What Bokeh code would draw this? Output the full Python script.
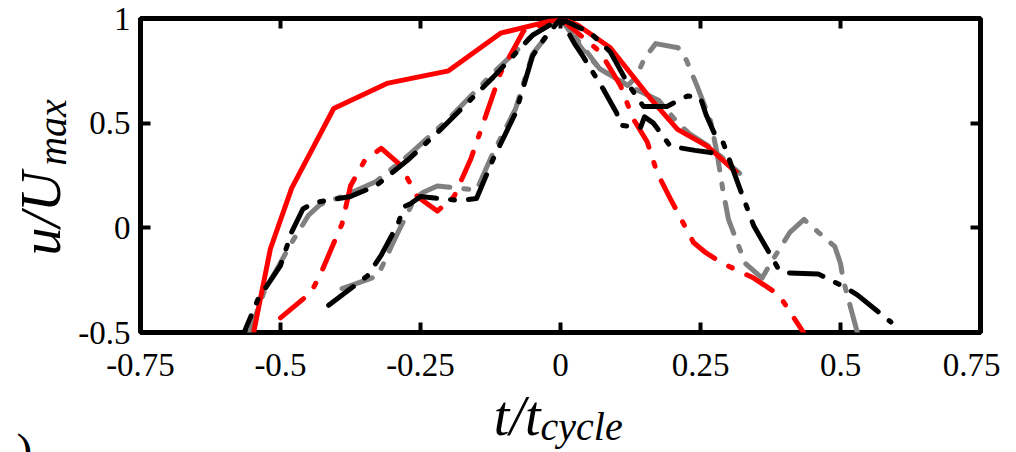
import math
from bokeh.plotting import figure
from bokeh.models import Range1d, LinearAxis, FixedTicker, Label
from bokeh.layouts import row, column
from bokeh.embed import file_html
from bokeh.resources import INLINE

# ---------------- data ----------------
x_ticks = [-0.75, -0.5, -0.25, 0, 0.25, 0.5, 0.75]
x_tick_labels = ["-0.75", "-0.5", "-0.25", "0", "0.25", "0.5", "0.75"]
y_ticks = [-0.5, 0, 0.5, 1]
y_tick_labels = ["-0.5", "0", "0.5", "1"]

red_solid_t = [-0.548, -0.518, -0.48, -0.405, -0.31, -0.2, -0.107, -0.03, 0.0, 0.03, 0.089, 0.16, 0.209, 0.262, 0.316]
red_solid_u = [-0.5, -0.1, 0.19, 0.57, 0.69, 0.75, 0.93, 0.98, 1.0, 0.97, 0.86, 0.62, 0.47, 0.39, 0.26]

red_dd_t = [-0.5, -0.446, -0.43, -0.39, -0.375, -0.35, -0.32, -0.286, -0.256, -0.22, -0.19, -0.16, -0.107, -0.066, 0.0,
            0.071, 0.107, 0.13, 0.155, 0.173, 0.196, 0.2375, 0.26, 0.29, 0.345, 0.39, 0.434]
red_dd_u = [-0.43, -0.31, -0.23, 0.02, 0.2, 0.32, 0.38, 0.30, 0.15, 0.08, 0.15, 0.33, 0.74, 0.94, 1.0,
            0.84, 0.68, 0.52, 0.41, 0.26, 0.14, -0.07, -0.12, -0.17, -0.24, -0.32, -0.5]

black_a_t = [-0.565, -0.54, -0.5, -0.48, -0.46, -0.44, -0.375, -0.33, -0.27, -0.214, -0.12, -0.05, 0.0,
             0.025, 0.04, 0.077, 0.1, 0.107, 0.143, 0.15, 0.166, 0.196, 0.24, 0.268, 0.29]
black_a_u = [-0.5, -0.34, -0.18, -0.02, 0.09, 0.12, 0.15, 0.2, 0.33, 0.47, 0.72, 0.92, 1.0,
             0.88, 0.82, 0.66, 0.55, 0.49, 0.48, 0.53, 0.5, 0.39, 0.37, 0.36, 0.34]

black_b_t = [-0.414, -0.345, -0.32, -0.29, -0.28, -0.268, -0.25, -0.18, -0.15, -0.12, -0.08, -0.05, -0.03, 0.0,
             0.054, 0.089, 0.12, 0.148, 0.19, 0.227, 0.25, 0.26, 0.275, 0.29, 0.32, 0.345, 0.375, 0.39, 0.405,
             0.46, 0.505, 0.53, 0.59]
black_b_u = [-0.37, -0.23, -0.13, 0.02, 0.1, 0.115, 0.15, 0.13, 0.14, 0.33, 0.55, 0.82, 0.9, 1.0,
             0.93, 0.84, 0.69, 0.58, 0.58, 0.63, 0.62, 0.54, 0.45, 0.41, 0.19, 0.01, -0.13, -0.2, -0.215,
             -0.22, -0.28, -0.32, -0.45]

gray_a_t = [-0.555, -0.53, -0.505, -0.48, -0.45, -0.43, -0.38, -0.33, -0.27, -0.2, -0.12, -0.05, 0.0,
            0.03, 0.07, 0.12, 0.175, 0.21, 0.23, 0.27, 0.32]
gray_a_u = [-0.5, -0.31, -0.19, -0.07, 0.06, 0.11, 0.16, 0.22, 0.35, 0.52, 0.74, 0.92, 1.0,
            0.9, 0.76, 0.68, 0.61, 0.5, 0.45, 0.38, 0.26]

gray_b_t = [-0.39, -0.327, -0.316, -0.304, -0.29, -0.273, -0.26, -0.245, -0.22, -0.15, -0.12, -0.08, -0.05, 0.0,
            0.04, 0.07, 0.12, 0.135, 0.15, 0.17, 0.21, 0.225, 0.245, 0.268, 0.28, 0.29, 0.3, 0.33, 0.36,
            0.375, 0.41, 0.435, 0.46, 0.49, 0.5, 0.505, 0.53]
gray_b_u = [-0.29, -0.23, -0.17, -0.1, -0.02, 0.07, 0.14, 0.17, 0.2, 0.18, 0.36, 0.57, 0.83, 1.0,
            0.85, 0.76, 0.68, 0.72, 0.81, 0.88, 0.86, 0.8, 0.67, 0.51, 0.35, 0.18, 0.04, -0.17, -0.24,
            -0.17, -0.02, 0.04, -0.02, -0.09, -0.17, -0.25, -0.5]

LEFT_W = 75
MAIN_W = 925
MAIN_H = 390
XT_H = 62
TOTAL_H = MAIN_H + XT_H

SERIF = "Liberation Serif"

p = figure(width=MAIN_W, height=MAIN_H, title=None,
           x_range=Range1d(-0.75, 0.75), y_range=Range1d(-0.5, 1),
           output_backend="svg", toolbar_location=None,
           x_axis_location=None, y_axis_location=None,
           min_border_left=65, min_border_right=20, min_border_top=18, min_border_bottom=58)
p.grid.visible = False
p.outline_line_color = "black"
p.outline_line_width = 5
p.background_fill_color = "white"
p.border_fill_color = "white"


def add_axis(side, ticks, labels, show, standoff):
    ax = LinearAxis(ticker=FixedTicker(ticks=ticks))
    if show:
        ax.major_label_overrides = {t: l for t, l in zip(ticks, labels)}
    else:
        ax.major_label_overrides = {t: "" for t in ticks}
    ax.axis_line_color = None
    ax.major_tick_in = 10
    ax.major_tick_out = 0
    ax.major_tick_line_width = 4
    ax.major_tick_line_color = "black"
    ax.minor_tick_line_color = None
    ax.major_label_text_font = SERIF
    ax.major_label_text_font_size = "33px"
    ax.major_label_text_color = "black"
    ax.major_label_standoff = standoff
    p.add_layout(ax, side)


add_axis("below", x_ticks, x_tick_labels, True, 21)
add_axis("left", y_ticks, y_tick_labels, True, 10)
add_axis("above", x_ticks, x_tick_labels, False, 0)
add_axis("right", y_ticks, y_tick_labels, False, 0)

LW = 5
p.line(gray_a_t, gray_a_u, line_color="#808080", line_width=LW, line_dash="30 14 5 14",
       line_dash_offset=6, line_cap="round", line_join="round")
p.line(gray_b_t, gray_b_u, line_color="#808080", line_width=LW, line_dash="32 14 5 14",
       line_dash_offset=0, line_cap="round", line_join="round")
p.line(red_solid_t, red_solid_u, line_color="#ff0000", line_width=LW, line_join="round")
p.line(red_dd_t, red_dd_u, line_color="#ff0000", line_width=LW, line_dash="30 16 4 16",
       line_cap="round", line_join="round")
p.line(black_a_t, black_a_u, line_color="black", line_width=LW, line_dash="30 14 4 14",
       line_dash_offset=12, line_cap="round", line_join="round")
p.line(black_b_t, black_b_u, line_color="black", line_width=LW, line_dash="34 14 4 14",
       line_dash_offset=3, line_cap="round", line_join="round")


def blank(width, height, x_range, y_range):
    f = figure(width=width, height=height, title=None, x_range=x_range, y_range=y_range,
               output_backend="svg", toolbar_location=None,
               x_axis_location=None, y_axis_location=None,
               min_border=0, min_border_left=0, min_border_right=0, min_border_top=0, min_border_bottom=0)
    f.grid.visible = False
    f.outline_line_color = None
    f.background_fill_color = "white"
    f.border_fill_color = "white"
    return f


def lab(fig, x, y, text, size, italic=True, angle=0.0, align="center", x_offset=0):
    fig.add_layout(Label(x=x, y=y, x_offset=x_offset, text=text, angle=angle,
                         text_align=align, text_baseline="middle", text_font=SERIF,
                         text_font_style="italic" if italic else "normal",
                         text_font_size=size, text_color="black"))


# y-title strip: frame covers page x 0..75, y 0..452 ; data y = TOTAL_H - page y
yt = blank(LEFT_W, TOTAL_H, Range1d(0, LEFT_W), Range1d(0, TOTAL_H))
lab(yt, 40, TOTAL_H - 213, "u/U", "56px", angle=math.pi / 2)
lab(yt, 52, TOTAL_H - 132, "max", "40px", angle=math.pi / 2)
lab(yt, 16, TOTAL_H - 450, ")", "48px", italic=False, align="left")

# x-title strip: its frame is aligned with the main frame, so it shares the main x range
xt = blank(MAIN_W, XT_H, Range1d(-0.75, 0.75), Range1d(0, XT_H))
lab(xt, 0, TOTAL_H - 415, "t/t", "56px", align="right", x_offset=-20)
lab(xt, 0, TOTAL_H - 426, "cycle", "40px", align="left", x_offset=-20)

layout = row(yt, column(p, xt, spacing=0), spacing=0)

open("out.html", "w").write(file_html(layout, INLINE))
